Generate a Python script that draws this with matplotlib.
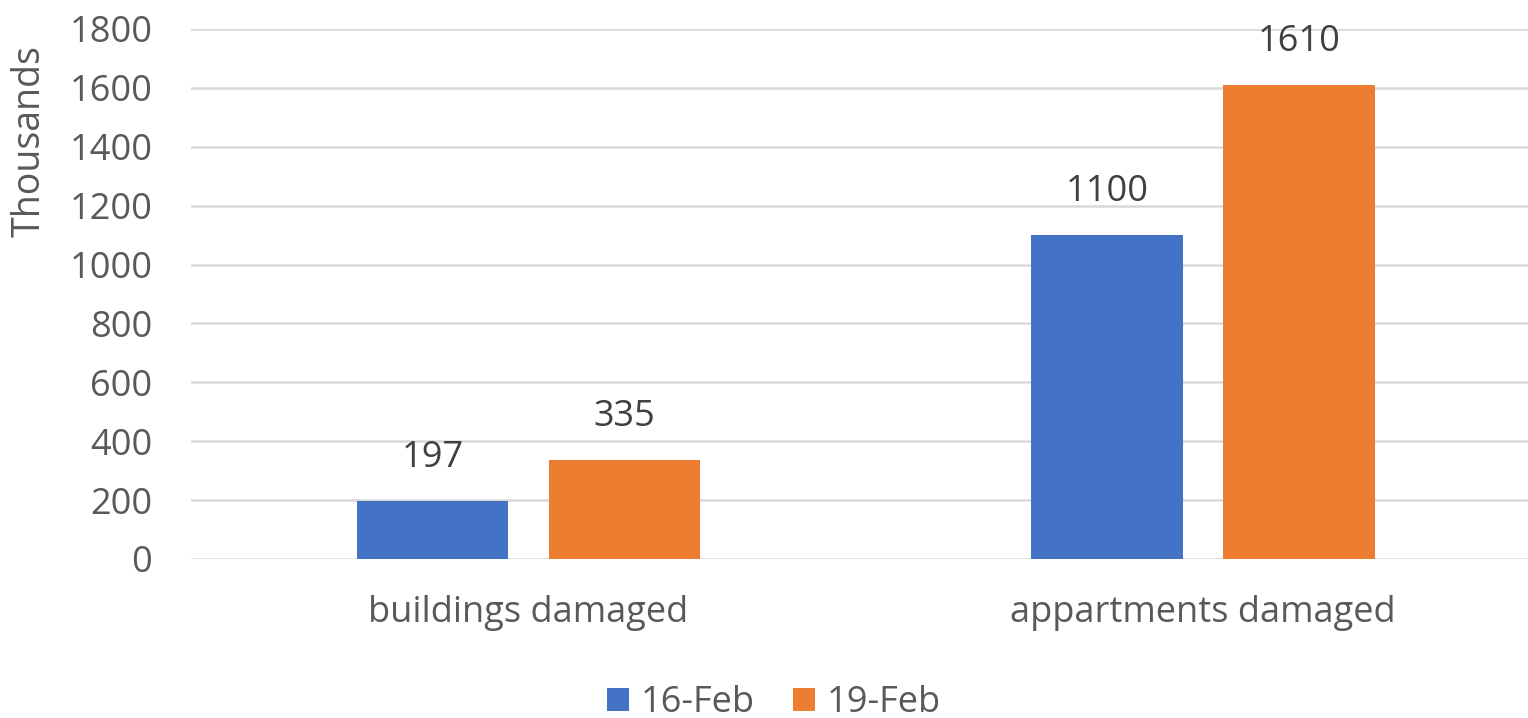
import matplotlib
matplotlib.use("Agg")
import matplotlib.pyplot as plt
import numpy as np

categories = ["buildings damaged", "appartments damaged"]
series_names = ["16-Feb", "19-Feb"]
feb16 = [197, 1100]
feb19 = [335, 1610]
yticks = [0, 200, 400, 600, 800, 1000, 1200, 1400, 1600, 1800]

colors = ["#4472C4", "#ED7D31"]
text_color = "#595959"
plt.rcParams['font.family'] = ['Open Sans', 'DejaVu Sans']
FS = 26

W, H = 1528, 718
fig = plt.figure(figsize=(W / 100, H / 100), dpi=100)
ax_left, ax_width = 191.25, 1349
ax_bottom, ax_top = 559, 29
ax = fig.add_axes([ax_left / W, (H - ax_bottom) / H, ax_width / W, (ax_bottom - ax_top) / H])

x = np.arange(len(categories))
w = 0.224
off = 0.1423
for vals, c, o, name in [(feb16, colors[0], -off, series_names[0]), (feb19, colors[1], off, series_names[1])]:
    bars = ax.bar(x + o, vals, width=w, color=c, label=name, zorder=3)
    for b, v in zip(bars, vals):
        ax.annotate(str(v), (b.get_x() + b.get_width() / 2, v), xytext=(0, 18),
                    textcoords="offset points", ha="center", va="bottom",
                    fontsize=FS, color="#404040")

ax.set_xlim(-0.5, 1.5)
ax.set_ylim(0, 1800)
ax.set_yticks(yticks)
ax.set_yticklabels([str(t) for t in yticks], fontsize=FS, color=text_color)
ax.set_xticks(x)
ax.set_xticklabels(categories, fontsize=FS, color=text_color)
ax.tick_params(axis='y', length=0, pad=28)
ax.tick_params(axis='x', length=0, pad=26)
ax.grid(axis='y', color="#D9D9D9", linewidth=1.8, zorder=0)
for s in ax.spines.values():
    s.set_visible(False)

fig.text(30 / W, 1 - 141 / H, "Thousands", rotation=90, ha="center", va="center",
         fontsize=27, color=text_color)

fig.legend(loc="center", bbox_to_anchor=(774 / W, 1 - 703 / H), ncol=2, frameon=False,
           fontsize=FS, labelcolor=text_color, handlelength=0.61, handleheight=0.61,
           handletextpad=0.33, columnspacing=1.05, borderpad=0)

fig.savefig("out.png", dpi=100)
